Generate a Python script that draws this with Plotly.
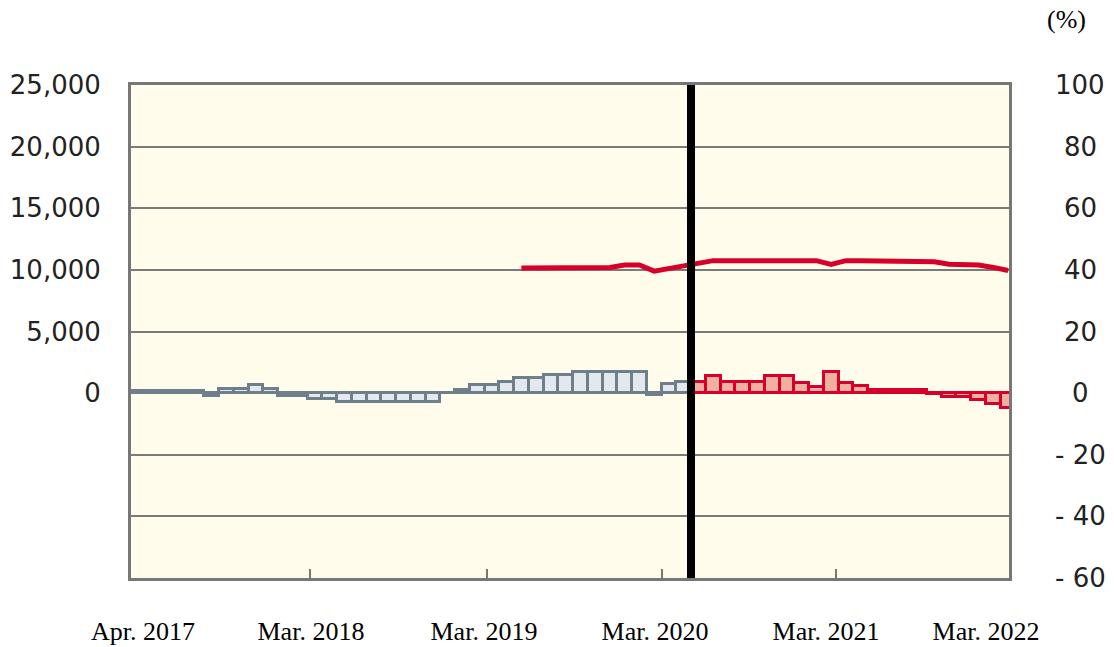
import pandas as pd
import plotly.graph_objects as go

# ---------------- data ----------------
months = [p.strftime("%b %Y") for p in pd.period_range("2017-04", "2022-03", freq="M")]

# year-on-year change (%), right axis
yoy_pct = [
    0.8, 0.8, 0.8, 0.8, 0.8, -0.8, 1.3, 1.3, 2.8, 1.3,      # Apr17-Jan18
    -0.8, -0.8, -1.8, -1.8, -2.8, -2.8, -2.8, -2.8, -2.8, -2.8,  # Feb18-Nov18
    -2.8, 0.0, 1.0, 2.8, 2.8, 3.5, 4.8, 4.8, 5.9, 5.9,       # Dec18-Sep19
    6.8, 6.8, 6.8, 6.8, 6.8, -0.7, 2.9, 3.5, 3.7, 5.4,       # Oct19-Jul20
    3.7, 3.7, 3.7, 5.7, 5.7, 3.2, 2.1, 6.8, 3.2, 2.4,        # Aug20-May21
    1.1, 1.1, 1.1, 1.1, -0.2, -1.1, -1.1, -2.3, -3.4, -4.9,  # Jun21-Mar22
]

# level (left axis)
level = [None] * 26 + [
    10150, 10150, 10150, 10150, 10150, 10150, 10200, 10400, 10400, 9900,   # Jun19-Mar20
    10100, 10300, 10500, 10750, 10750, 10750, 10750, 10750, 10750, 10750,  # Apr20-Jan21
    10750, 10450, 10750, 10750, 10750, 10750, 10750, 10750, 10650, 10450,  # Feb21-Nov21
    10450, 10400, 10200, 9950,                                             # Dec21-Mar22
]

first_red_month = "Jun 2020"

tick_labels = ["Apr. 2017", "Mar. 2018", "Mar. 2019", "Mar. 2020", "Mar. 2021", "Mar. 2022"]
left_ticks = [0, 5000, 10000, 15000, 20000, 25000]
right_ticks = [-60, -40, -20, 0, 20, 40, 60, 80, 100]
right_labels = [("- " + str(-v)) if v < 0 else str(v) for v in right_ticks]

# ---------------- figure ----------------
idx = list(range(len(months)))
split = months.index(first_red_month)

GRAY_LINE = "#6E7E8A"
GRAY_FILL = "#E3E8EF"
RED_LINE = "#D7002B"
RED_FILL = "#F2B0A0"
FRAME = "#777777"
TEXT = "#222222"

fig = go.Figure()

fig.add_trace(go.Bar(
    x=idx[:split], y=yoy_pct[:split], yaxis="y2",
    marker=dict(color=GRAY_FILL, line=dict(color=GRAY_LINE, width=3)),
    hoverinfo="skip",
))
fig.add_trace(go.Bar(
    x=idx[split:], y=yoy_pct[split:], yaxis="y2",
    marker=dict(color=RED_FILL, line=dict(color=RED_LINE, width=3)),
    hoverinfo="skip",
))
fig.add_trace(go.Scatter(
    x=idx, y=level, yaxis="y", mode="lines",
    line=dict(color=RED_LINE, width=5), connectgaps=False,
    hoverinfo="skip",
))

fig.add_shape(type="line", xref="x", yref="paper",
              x0=split - 0.5, x1=split - 0.5, y0=0, y1=1,
              line=dict(color="black", width=8), layer="above")

label_pos = [0.34, 11.73, 23.46, 35.06, 46.65, 57.5]
year_marks = [11.67, 23.67, 35.54, 47.33]

tickfont = dict(family="DejaVu Sans, Verdana, sans-serif", size=26, color=TEXT)
serif = "Liberation Serif, Times New Roman, serif"

L, R, T, B = 131, 105, 85, 69
plot_w = 1114 - L - R

annotations = [dict(
    text="(%)", xref="paper", yref="paper",
    x=(1066 - L) / plot_w, y=(647 - 20 - B) / (647 - T - B),
    xanchor="center", yanchor="middle", showarrow=False,
    font=dict(family=serif, size=26, color="black"),
)]
for v, t in zip(right_ticks, right_labels):
    annotations.append(dict(
        text=t, xref="paper", yref="y2", x=(1080 - L) / plot_w, y=v,
        xanchor="center", yanchor="middle", showarrow=False, font=tickfont,
    ))

fig.update_layout(
    width=1114, height=647,
    margin=dict(l=L, r=R, t=T, b=B, autoexpand=False),
    paper_bgcolor="white",
    plot_bgcolor="#FFFCEB",
    showlegend=False,
    bargap=0,
    hovermode=False,
    xaxis=dict(
        range=[-0.47, 59.06], automargin=False,
        tickmode="array", tickvals=label_pos, ticktext=tick_labels,
        ticks="", showgrid=False, zeroline=False,
        showline=True, mirror=True, linecolor=FRAME, linewidth=3,
        tickfont=dict(family=serif, size=26, color="black"),
        ticklabelstandoff=28,
        minor=dict(tickmode="array", tickvals=year_marks, ticks="inside",
                   ticklen=9, tickwidth=2, tickcolor=FRAME, showgrid=False),
    ),
    yaxis=dict(
        range=[-15000, 25000], automargin=False,
        tickmode="array", tickvals=left_ticks,
        ticktext=[f"{v:,}" for v in left_ticks],
        ticks="", showgrid=False, zeroline=False,
        showline=True, mirror=True, linecolor=FRAME, linewidth=3,
        tickfont=tickfont, ticklabelstandoff=22,
    ),
    yaxis2=dict(
        overlaying="y", side="right", automargin=False,
        range=[-60, 100],
        tickmode="array", tickvals=right_ticks,
        showticklabels=False,
        ticks="", showgrid=True, gridcolor="#7A7A7A", gridwidth=2,
        zeroline=False, showline=False,
    ),
    annotations=annotations,
)

fig.write_html("out.html", config={"displayModeBar": False},
               post_script="document.body.style.margin='0';document.body.style.padding='0';")
